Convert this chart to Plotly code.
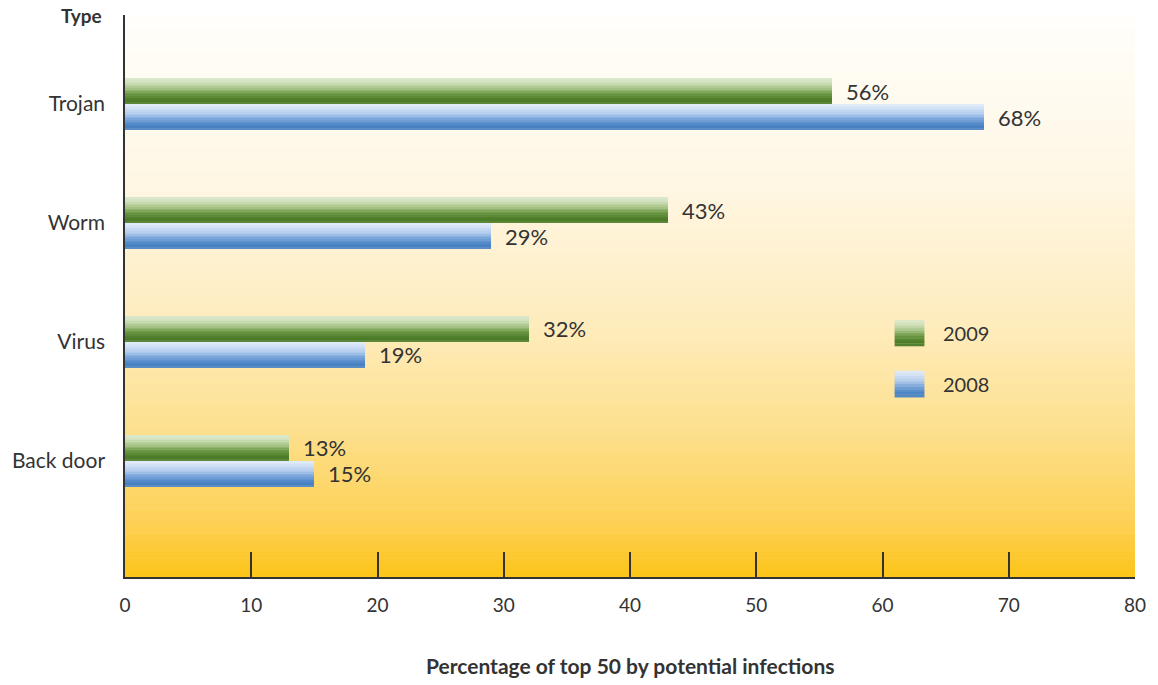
import plotly.graph_objects as go

# Malware types, bottom to top on the category axis
categories = ["Back door", "Virus", "Worm", "Trojan"]
share_2009 = [13, 32, 43, 56]
share_2008 = [15, 19, 29, 68]
series_names = ["2009", "2008"]
x_ticks = [0, 10, 20, 30, 40, 50, 60, 70, 80]

FONT = "Lato"
TEXT = "#333333"


def hex_to_rgb(h):
    h = h.lstrip("#")
    return tuple(int(h[i:i + 2], 16) for i in (0, 2, 4))


def blend(stops, t):
    """Interpolate a colour from (position, hex) stops, t in [0, 1]."""
    for (p0, c0), (p1, c1) in zip(stops, stops[1:]):
        if p0 <= t <= p1:
            f = 0 if p1 == p0 else (t - p0) / (p1 - p0)
            a, b = hex_to_rgb(c0), hex_to_rgb(c1)
            return "rgb(%d,%d,%d)" % tuple(round(a[i] + (b[i] - a[i]) * f) for i in range(3))
    return stops[-1][1]


# glossy vertical shading, top (0) to bottom (1)
green_stops = [(0.0, "#dce8cd"), (0.15, "#d2e2bf"), (0.38, "#aac68a"),
               (0.58, "#729d4a"), (0.8, "#4f7f2a"), (0.93, "#4a7a25"), (1.0, "#6b9149")]
blue_stops = [(0.0, "#e3edf9"), (0.18, "#d0e0f5"), (0.38, "#b3cdee"),
              (0.58, "#7ea8dc"), (0.8, "#4f88c8"), (0.93, "#4680c0"), (1.0, "#6b97c9")]
bg_stops = [(0.0, "#fffefb"), (0.3, "#fff7e4"), (0.55, "#feecbd"),
            (0.75, "#fddf8a"), (0.9, "#fdd156"), (1.0, "#fcc518")]

BAR_H = 0.215
N_STRIPES = 16

fig = go.Figure()

series = [(share_2009, green_stops, 0.0), (share_2008, blue_stops, -BAR_H)]
for values, stops, base_off in series:
    h = BAR_H / N_STRIPES
    for k in range(N_STRIPES):
        # k = 0 is the top stripe of the bar
        off = base_off + BAR_H - (k + 1) * h
        t = (k + 0.5) / N_STRIPES
        fig.add_trace(go.Bar(
            x=values, y=categories, orientation="h",
            width=h * 1.02, offset=off,
            marker=dict(color=blend(stops, t), line=dict(width=0)),
            showlegend=False, hoverinfo="skip",
        ))

# value labels at the bar ends
for values, shift in [(share_2009, 13), (share_2008, -13)]:
    for cat, v in zip(categories, values):
        fig.add_annotation(x=v, y=cat, text=f"{v}%", showarrow=False,
                           xanchor="left", yanchor="middle", xshift=12, yshift=shift,
                           font=dict(family=FONT, size=22, color=TEXT))

shapes = []
# warm vertical background wash behind the plot area
N_BG = 90
for i in range(N_BG):
    t = (i + 0.5) / N_BG
    shapes.append(dict(type="rect", xref="x", yref="paper", layer="below",
                       x0=0, x1=80, y0=1 - (i + 1) / N_BG - 0.001, y1=1 - i / N_BG,
                       fillcolor=blend(bg_stops, t), line=dict(width=0)))

# legend swatches
legend_items = [("2009", green_stops, 0.457, 0.411, 0.434),
                ("2008", blue_stops, 0.367, 0.320, 0.343)]
for name, stops, top, bottom, mid in legend_items:
    n = 10
    for k in range(n):
        y1 = top - (top - bottom) * k / n
        y0 = top - (top - bottom) * (k + 1) / n
        shapes.append(dict(type="rect", xref="paper", yref="paper",
                           x0=0.762, x1=0.7915, y0=y0 - 0.0005, y1=y1,
                           fillcolor=blend(stops, (k + 0.5) / n), line=dict(width=0)))
    fig.add_annotation(xref="paper", yref="paper", x=0.808, y=mid, text=name,
                       showarrow=False, xanchor="left", yanchor="middle",
                       font=dict(family=FONT, size=20, color=TEXT))

fig.add_annotation(xref="paper", yref="paper", x=-0.0435, y=1.0, text="<b>Type</b>",
                   showarrow=False, xanchor="center", yanchor="middle",
                   font=dict(family=FONT, size=19, color=TEXT))
fig.add_annotation(xref="paper", yref="paper", x=0.5, y=-0.1566,
                   text="<b>Percentage of top 50 by potential infections</b>",
                   showarrow=False, xanchor="center", yanchor="middle",
                   font=dict(family=FONT, size=21, color=TEXT))

fig.update_layout(
    width=1158, height=685,
    margin=dict(l=124, r=22, t=15, b=108),
    paper_bgcolor="white", plot_bgcolor="rgba(0,0,0,0)",
    barmode="overlay", bargap=0,
    shapes=shapes, showlegend=False,
    font=dict(family=FONT, color=TEXT),
)
fig.update_xaxes(
    range=[0, 80], tickvals=x_ticks, ticktext=[str(v) for v in x_ticks],
    ticks="inside", ticklen=25, tickwidth=1.5, tickcolor="#333333",
    showline=True, linecolor="#333333", linewidth=1.5,
    showgrid=False, zeroline=False, ticklabelstandoff=10,
    tickfont=dict(family=FONT, size=19, color=TEXT),
)
fig.update_yaxes(
    type="category", categoryorder="array", categoryarray=categories,
    range=[-0.975, 3.748],
    ticks="outside", ticklen=14, tickcolor="rgba(0,0,0,0)",
    showline=True, linecolor="#333333", linewidth=1.5,
    showgrid=False, zeroline=False,
    tickfont=dict(family=FONT, size=21, color=TEXT),
)

fig.write_html("out.html")
